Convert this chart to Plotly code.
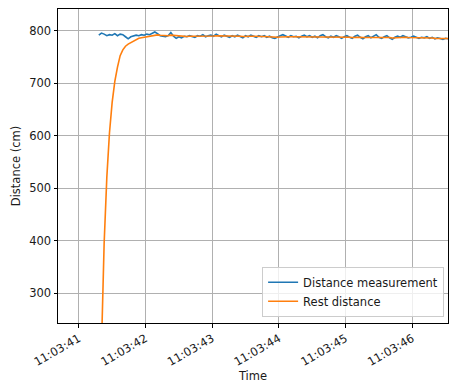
import pandas as pd
import plotly.graph_objects as go

# sample clock: 25 Hz starting at 11:03:41.30
start_time = "2023-05-10 11:03:41.30"
n_samples = 133
sample_period = "40ms"

distance_measurement = [
    792, 796, 794, 791, 793, 792, 795, 791, 794, 793,
    789, 785, 789, 790, 792, 791, 793, 792, 794, 793,
    795, 798, 795, 791, 790, 789, 791, 797, 790, 786,
    789, 787, 790, 789, 791, 790, 788, 791, 790, 793,
    789, 791, 792, 790, 794, 791, 789, 792, 790, 788,
    791, 789, 792, 790, 787, 791, 789, 792, 790, 788,
    791, 789, 791, 788, 790, 787, 786, 789, 791, 793,
    790, 788, 791, 789, 790, 787, 790, 792, 789, 791,
    788, 790, 787, 791, 793, 789, 787, 790, 788, 791,
    789, 786, 789, 791, 788, 786, 790, 792, 788, 785,
    789, 791, 787, 790, 793, 788, 786, 789, 791, 787,
    784, 788, 790, 788, 791, 789, 787, 788, 790, 788,
    786, 788, 787, 789, 786, 788, 785, 787, 786, 784,
    786, 785, 786,
]

rest_distance = [
    0, 213, 396, 521, 606, 664, 704, 731, 753, 764,
    771, 775, 778, 781, 784, 786, 787, 788, 789, 790,
    791, 792, 792.5, 792, 791.5, 791, 791, 792, 791.5, 790.5,
    790, 789.5, 789.5, 789.5, 790, 790, 789.5, 790, 790, 790.5,
    790, 790, 790.5, 790.5, 791, 791, 790.5, 790.5, 790.5, 790,
    790, 790, 790.5, 790, 789.5, 790, 789.5, 790, 790, 789.5,
    789.5, 789.5, 789.5, 789, 789, 788.5, 788, 788, 788.5, 789,
    789, 789, 789, 789, 789, 788.5, 788.5, 789, 789, 789,
    788.5, 788.5, 788, 788.5, 789, 789, 788.5, 788.5, 788.5, 788.5,
    788.5, 788, 788, 788.5, 788, 787.5, 788, 788.5, 788, 787.5,
    787.5, 788, 787.5, 788, 788.5, 788, 787.5, 787.5, 788, 787.5,
    786.5, 787, 787.5, 787.5, 788, 788, 787.5, 787.5, 787.5, 787.5,
    787, 787, 787, 787, 786.5, 786.5, 786, 786, 786, 785.5,
    785.5, 785.5, 785.5,
]

times = pd.date_range(start=start_time, periods=n_samples, freq=sample_period)

x_range = ["2023-05-10 11:03:40.688", "2023-05-10 11:03:46.536"]
y_range = [243.4, 841.9]

fig = go.Figure()
fig.add_trace(go.Scatter(x=times, y=distance_measurement, mode="lines",
                         name="Distance measurement",
                         line=dict(color="#1f77b4", width=1.6)))
fig.add_trace(go.Scatter(x=times, y=rest_distance, mode="lines",
                         name="Rest distance",
                         line=dict(color="#ff7f0e", width=1.6)))

font_family = "DejaVu Sans"
fsize = 11.5
axis_common = dict(
    showline=True, linecolor="black", linewidth=1, mirror=True,
    showgrid=True, gridcolor="#b0b0b0", gridwidth=0.8,
    ticks="outside", ticklen=3.5, tickwidth=0.8, tickcolor="black",
    zeroline=False, automargin=False,
    tickfont=dict(family=font_family, size=fsize, color="#1a1a1a"),
)

fig.update_layout(
    width=449, height=383,
    margin=dict(l=58, r=1, t=9, b=60, autoexpand=False),
    paper_bgcolor="white", plot_bgcolor="white",
    font=dict(family=font_family, size=fsize, color="#1a1a1a"),
    showlegend=True,
    legend=dict(x=0.99, y=0.02, xanchor="right", yanchor="bottom",
                bgcolor="rgba(255,255,255,0.8)", bordercolor="#cccccc",
                borderwidth=1, font=dict(family=font_family, size=fsize, color="#1a1a1a"),
                itemwidth=30, tracegroupgap=0),
    xaxis=dict(range=x_range, type="date", tickformat="%H:%M:%S",
               dtick=1000, tick0="2023-05-10 11:03:41", tickangle=-30,
               title=dict(text="Time", font=dict(family=font_family, size=fsize), standoff=4),
               **axis_common),
    yaxis=dict(range=y_range, dtick=100, tick0=0,
               title=dict(text="Distance (cm)", font=dict(family=font_family, size=fsize), standoff=6),
               **axis_common),
)

fig.write_html("out.html",
               config={"displayModeBar": False},
               post_script="document.body.style.margin='0';document.body.style.overflow='hidden';")
